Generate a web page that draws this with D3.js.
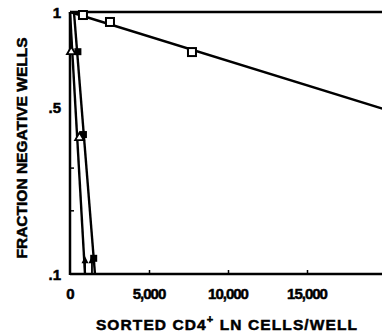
<!DOCTYPE html>
<html><head><meta charset="utf-8">
<script src="https://cdn.jsdelivr.net/npm/d3@7"></script>
<style>body{margin:0;background:#fff}svg{display:block}text{font-family:"Liberation Sans",Arial,sans-serif;font-weight:bold;fill:#000;stroke:#000;stroke-width:0.5px}</style>
</head><body>
<script>
// data
const openX = [820, 2530, 7720];
const openF = [0.98, 0.935, 0.758];
const openLineX = [0, 20000];
const openLineF = [1, 0.49];
const filledX = [500, 850, 1500];
const filledF = [0.76, 0.40, 0.12];
const filledLineX = [250, 1580];
const filledLineF = [1, 0.1];
const triX = [80, 600];
const triF = [0.76, 0.39];
const triLineX = [0, 950];
const triLineF = [1, 0.1];
const arrowX = [950, 1390];
const arrowF = [0.12, 0.12];
const xTicks = [0, 5000, 10000, 15000];
const xTickLabels = ["0", "5,000", "10,000", "15,000"];
const yTicks = [1, 0.5, 0.1];
const yTickLabels = ["1", ".5", ".1"];
const yMinorTicks = [0.3, 0.2];

const W = 382, H = 333;
const svg = d3.select("body").append("svg").attr("width", W).attr("height", H);
const x = d3.scaleLinear().domain([0, 20000]).range([70, 386]);
const y = d3.scalePow().exponent(0.25).domain([0.1, 1]).range([274, 12]);

// frame lines
svg.append("line").attr("x1", 70).attr("x2", W).attr("y1", y(1)).attr("y2", y(1)).attr("stroke", "#000").attr("stroke-width", 2.5);
const xAxis = d3.axisBottom(x).tickValues(xTicks.slice(1)).tickSize(-4).tickFormat("");
const gx = svg.append("g").attr("transform", `translate(0,${y(0.1)})`).call(xAxis);
gx.select(".domain").attr("stroke-width", 2.5).attr("d", `M70,0H${W}`);
gx.selectAll(".tick line").attr("stroke-width", 1.5);
const yAxis = d3.axisLeft(y).tickValues(yMinorTicks).tickSize(-4).tickFormat("");
const gy = svg.append("g").attr("transform", `translate(70,0)`).call(yAxis);
gy.select(".domain").attr("stroke-width", 2.5).attr("d", `M0,${y(1)}V${y(0.1)+1}`);
gy.selectAll(".tick line").attr("stroke-width", 1.5);

// tick labels
svg.selectAll(".xl").data(xTicks).enter().append("text")
  .attr("x", d => x(d)).attr("y", 299).attr("text-anchor", "middle").attr("font-size", 15)
  .attr("letter-spacing", -1)
  .text((d, i) => xTickLabels[i]);
svg.selectAll(".yl").data(yTicks).enter().append("text")
  .attr("x", 61).attr("y", d => y(d) + 5.5).attr("text-anchor", "end").attr("font-size", 15)
  .text((d, i) => yTickLabels[i]);

// titles
const xt = svg.append("text").attr("x", 227).attr("y", 330).attr("text-anchor", "middle").attr("font-size", 15.5)
  .attr("letter-spacing", 1.1);
xt.append("tspan").text("SORTED CD4");
xt.append("tspan").attr("dy", -7).attr("font-size", 11).text("+");
xt.append("tspan").attr("dy", 7).text(" LN CELLS/WELL");
svg.append("text").attr("transform", "translate(27,148) rotate(-90)").attr("text-anchor", "middle").attr("font-size", 15.5).text("FRACTION NEGATIVE WELLS");

const line = d3.line().x(d => x(d[0])).y(d => y(d[1]));
const drawLine = (xs, fs) => svg.append("path").datum(d3.zip(xs, fs)).attr("d", line)
  .attr("fill", "none").attr("stroke", "#000").attr("stroke-width", 2.4);
drawLine(openLineX, openLineF);
drawLine(filledLineX, filledLineF);
drawLine(triLineX, triLineF);

// open squares
svg.selectAll(".os").data(d3.zip(openX, openF)).enter().append("rect")
  .attr("x", d => x(d[0]) - 4).attr("y", d => y(d[1]) - 4).attr("width", 8).attr("height", 8)
  .attr("fill", "#fff").attr("stroke", "#000").attr("stroke-width", 2);
// filled squares
svg.selectAll(".fs").data(d3.zip(filledX, filledF)).enter().append("rect")
  .attr("x", d => x(d[0]) - 3.5).attr("y", d => y(d[1]) - 3.5).attr("width", 7).attr("height", 7)
  .attr("fill", "#000");
// triangles
const tri = d3.symbol().type(d3.symbolTriangle).size(32);
svg.selectAll(".tr").data(d3.zip(triX, triF)).enter().append("path")
  .attr("d", tri).attr("transform", d => `translate(${x(d[0])},${y(d[1])})`)
  .attr("fill", "#fff").attr("stroke", "#000").attr("stroke-width", 1.8);
// arrows
const arrows = svg.selectAll(".ar").data(d3.zip(arrowX, arrowF)).enter().append("g")
  .attr("transform", d => `translate(${x(d[0])},0)`);
arrows.append("line").attr("x1", 0).attr("x2", 0).attr("y1", d => y(d[1]) + 2).attr("y2", y(0.1))
  .attr("stroke", "#000").attr("stroke-width", 1.8);
arrows.append("path").attr("d", d => `M-3.5,${y(d[1]) + 5}L0,${y(d[1]) - 2}L3.5,${y(d[1]) + 5}Z`).attr("fill", "#000");
</script>
</body></html>
